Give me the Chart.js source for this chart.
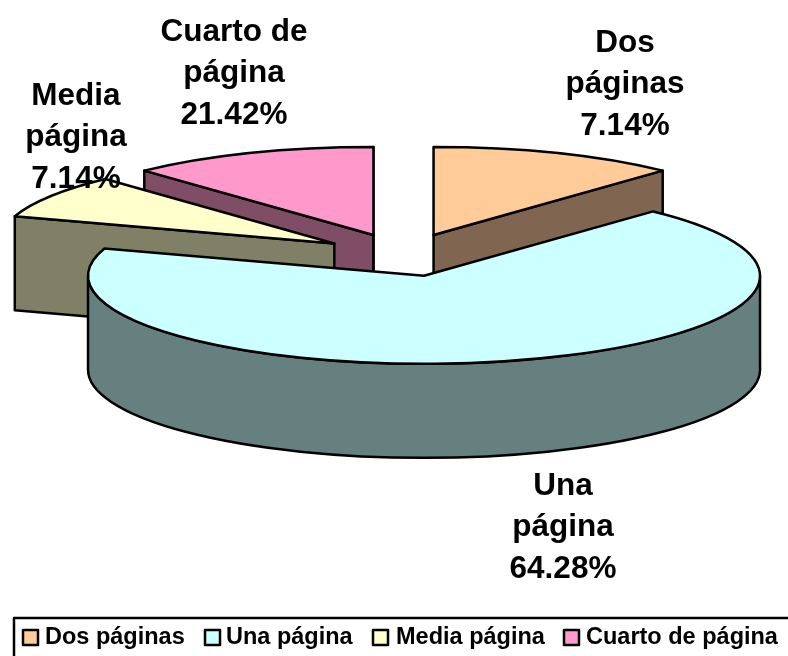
<!DOCTYPE html>
<html>
<head>
<meta charset="utf-8">
<title>Pie</title>
<script src="https://cdn.jsdelivr.net/npm/chart.js@4"></script>
<style>
  html, body { margin: 0; padding: 0; background: #fff; }
  #wrap { width: 788px; height: 656px; }
</style>
</head>
<body>
<div id="wrap"><canvas id="pie" width="788" height="656"></canvas></div>
<script>
const categories = ["Dos páginas", "Una página", "Media página", "Cuarto de página"];
const percentLabels = ["7.14%", "64.28%", "7.14%", "21.42%"];
// slice sizes as drawn in the picture, they do not follow the printed percentages
const sliceValues = [43, 245, 29, 43];
const topColors = ["#FFCC99", "#CCFFFF", "#FFFFCC", "#FF99CC"];
const wallColors = ["#806650", "#668080", "#808066", "#804D66"];
const labelLines = [["Dos", "páginas"], ["Una", "página"], ["Media", "página"], ["Cuarto de", "página"]];
const labelCenters = [[625, 43], [563, 486], [76, 96], [234, 32]];
const legendSwatchX = [23, 205, 373, 564];
const legendTextX = [45, 226, 396, 586];

const PIE_X = 403.5;
const PIE_Y = 255;
const RADIUS = 336;
const TILT = 0.262;
const DEPTH = 94;
const EXPLODE = 82;
const DRAW_ORDER = [3, 2, 0, 1];
const LINE_WIDTH = 2.5;
const LABEL_FONT = "bold 31.5px 'Liberation Sans', Arial, sans-serif";
const LEGEND_FONT = "bold 23.5px 'Liberation Sans', Arial, sans-serif";

function slicePoint(arc, angle, radius) {
  const mid = (arc.startAngle + arc.endAngle) / 2;
  return {
    x: PIE_X + Math.cos(mid) * EXPLODE + Math.cos(angle) * radius,
    y: PIE_Y + TILT * (Math.sin(mid) * EXPLODE + Math.sin(angle) * radius),
  };
}

function traceEllipse(ctx, arc, from, to, drop, back) {
  const c = slicePoint(arc, 0, 0);
  ctx.ellipse(c.x, c.y + drop, arc.outerRadius, arc.outerRadius * TILT, 0, from, to, back);
}

function drawWalls(ctx, arc, color) {
  const c = slicePoint(arc, 0, 0);
  ctx.fillStyle = color;
  ctx.strokeStyle = "#000";
  ctx.lineWidth = LINE_WIDTH;
  ctx.lineJoin = "round";
  // flat cut faces, only those turned to the viewer
  const faces = [];
  if (Math.cos(arc.startAngle) < 0) faces.push(arc.startAngle);
  if (Math.cos(arc.endAngle) > 0) faces.push(arc.endAngle);
  faces.forEach((a) => {
    const p = slicePoint(arc, a, arc.outerRadius);
    ctx.beginPath();
    ctx.moveTo(c.x, c.y);
    ctx.lineTo(p.x, p.y);
    ctx.lineTo(p.x, p.y + DEPTH);
    ctx.lineTo(c.x, c.y + DEPTH);
    ctx.closePath();
    ctx.fill();
    ctx.stroke();
  });
  // round part of the wall, only the side facing the viewer
  const from = Math.max(arc.startAngle, 0);
  const to = Math.min(arc.endAngle, Math.PI);
  if (to > from) {
    ctx.beginPath();
    traceEllipse(ctx, arc, from, to, 0, false);
    traceEllipse(ctx, arc, to, from, DEPTH, true);
    ctx.closePath();
    ctx.fill();
    ctx.stroke();
  }
}

const pie3d = {
  id: "pie3d",
  beforeDatasetsDraw(chart) {
    const ctx = chart.ctx;
    const arcs = chart.getDatasetMeta(0).data;
    DRAW_ORDER.forEach((i) => {
      const arc = arcs[i];
      drawWalls(ctx, arc, wallColors[i]);
      const c = slicePoint(arc, 0, 0);
      ctx.save();
      ctx.translate(c.x, c.y);
      ctx.scale(1, TILT);
      ctx.translate(-arc.x, -arc.y);
      arc.draw(ctx);
      ctx.restore();
      ctx.strokeStyle = "#000";
      ctx.lineWidth = LINE_WIDTH;
      ctx.lineJoin = "round";
      ctx.beginPath();
      ctx.moveTo(c.x, c.y);
      traceEllipse(ctx, arc, arc.startAngle, arc.endAngle, 0, false);
      ctx.closePath();
      ctx.stroke();
    });
    return false;
  },
  afterDraw(chart) {
    const ctx = chart.ctx;
    ctx.save();
    ctx.fillStyle = "#000";
    ctx.font = LABEL_FONT;
    ctx.textAlign = "center";
    ctx.textBaseline = "middle";
    categories.forEach((name, i) => {
      const lines = labelLines[i].concat(percentLabels[i]);
      lines.forEach((line, n) => {
        ctx.fillText(line, labelCenters[i][0], labelCenters[i][1] + n * 41.5);
      });
    });
    // legend, the built in one cannot sit this tight
    ctx.strokeStyle = "#000";
    ctx.lineWidth = LINE_WIDTH;
    ctx.strokeRect(14, 618, 800, 60);
    ctx.font = LEGEND_FONT;
    ctx.textAlign = "left";
    categories.forEach((name, i) => {
      ctx.fillStyle = topColors[i];
      ctx.fillRect(legendSwatchX[i], 630, 15, 15);
      ctx.strokeRect(legendSwatchX[i], 630, 15, 15);
      ctx.fillStyle = "#000";
      ctx.fillText(name, legendTextX[i], 638);
    });
    ctx.restore();
  },
};

new Chart(document.getElementById("pie"), {
  type: "pie",
  data: {
    labels: categories,
    datasets: [
      {
        data: sliceValues,
        backgroundColor: topColors,
        borderWidth: 0,
        radius: RADIUS,
      },
    ],
  },
  options: {
    responsive: false,
    animation: false,
    plugins: {
      tooltip: { enabled: false },
      legend: { display: false },
    },
  },
  plugins: [pie3d],
});
</script>
</body>
</html>
